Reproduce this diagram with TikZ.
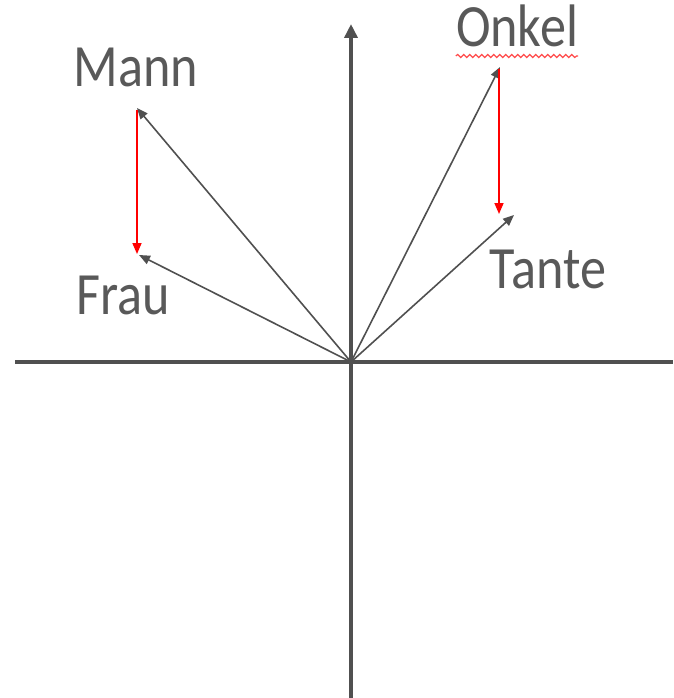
\documentclass[tikz,border=0pt]{standalone}
\usepackage{fontspec}
\usetikzlibrary{arrows.meta,decorations.pathmorphing}
\newfontfamily\wordfont{Carlito}[FakeStretch=0.87]
\definecolor{axisgray}{HTML}{505050}
\definecolor{wordgray}{HTML}{595959}
\definecolor{diffred}{HTML}{FF0000}

\begin{document}
\begin{tikzpicture}[
        x=1pt, y=-1pt,
        axis/.style={
          line width=4pt,
          axisgray
        },
        vec/.style={
          -{Triangle[length=11pt,width=9pt]},
          line width=1.6pt,
          axisgray
        },
        diff/.style={
          -{Triangle[length=11pt,width=9pt]},
          line width=1.6pt,
          diffred
        },
        word/.style={
          anchor=base,
          inner sep=0pt,
          text=wordgray,
          font=\wordfont\fontsize{60}{62}\selectfont
        }
      ]

      \useasboundingbox (0,0) rectangle (673,698);

      % axes
      \coordinate (o) at (351,362);
      \coordinate (xl) at (15,362);
      \coordinate (xr) at (673,362);
      \coordinate (yb) at (351,698);
      \coordinate (yt) at (351,24);
      \draw[axis] (xl) -- (xr);
      \draw[axis, -{Triangle[length=14pt,width=13pt]}] (yb) -- (yt);

      % vector tips
      \coordinate (mann) at (137,108);
      \coordinate (frau) at (139,255);
      \coordinate (onkel) at (500,67);
      \coordinate (tante) at (514,215);

      \draw[vec] (o) -- (mann);
      \draw[vec] (o) -- (frau);
      \draw[vec] (o) -- (onkel);
      \draw[vec] (o) -- (tante);

      % differences
      \coordinate (mann0) at (137,110);
      \coordinate (frau0) at (137,254);
      \coordinate (onkel0) at (499,69);
      \coordinate (tante0) at (499,214);
      \draw[diff] (mann0) -- (frau0);
      \draw[diff] (onkel0) -- (tante0);

      % labels
      \node[word] (lmann) at (136,87) {Mann};
      \node[word] (lfrau) at (123,314) {Frau};
      \node[word] (lonkel) at (517,47) {Onkel};
      \node[word] (ltante) at (548,288) {Tante};

      \draw[diffred!70, line width=1.2pt,
            decorate, decoration={snake, amplitude=1.5pt, segment length=6pt}]
        ([yshift=-9pt]lonkel.base west) -- ([yshift=-9pt]lonkel.base east);

      \end{tikzpicture}
\end{document}
